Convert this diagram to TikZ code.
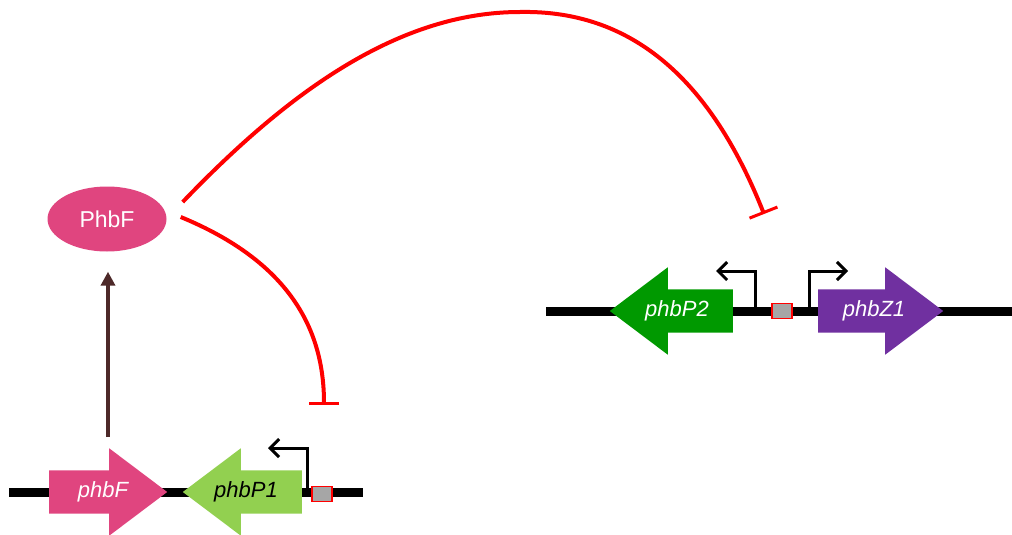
\documentclass[tikz,border=0pt]{standalone}
\usepackage{fontspec}
\setmainfont{Liberation Sans}
\usetikzlibrary{arrows.meta,shapes.geometric,shapes.arrows}
\definecolor{rose}{RGB}{224,69,127}
\definecolor{lime}{RGB}{146,208,80}
\definecolor{forest}{RGB}{0,153,0}
\definecolor{violet}{RGB}{112,48,160}
\definecolor{cocoa}{RGB}{77,41,41}
\definecolor{ashgray}{RGB}{166,166,166}

\begin{document}
\begin{tikzpicture}[x=1pt,y=-1pt,
    gene/.style={single arrow,single arrow tip angle=74,single arrow head extend=22pt,
      inner xsep=0pt,inner ysep=11.5pt,text height=15pt,text depth=5pt,anchor=tail},
    genetext/.style={font=\fontsize{22}{26}\selectfont\itshape,inner sep=0pt},
    dna/.style={line width=9pt},
    operator/.style={draw=red,line width=1.5pt,fill=ashgray,minimum width=20pt,minimum height=15pt,inner sep=0pt},
    prom/.style={line width=3pt,-{Straight Barb[length=9pt,width=18pt]}},
    repress/.style={red,line width=4pt,-{Bar[width=30pt,line width=3pt]}},
    act/.style={cocoa,line width=4pt,-{Triangle[length=14pt,width=14pt]}}]
  \useasboundingbox (0,0) rectangle (1012,535);
  % chromosome stretches
  \draw[dna] (9,492) -- (363,492);
  \draw[dna] (546,311) -- (1012,311);
  \foreach \n/\x/\y/\l/\r/\o/\c/\t/\s in {
      gF/49/492/118/0/54/rose/white/phbF,
      gP1/302/492/119/180/-56/lime/black/phbP1,
      gP2/733/311/123/180/-56/forest/white/phbP2,
      gZ1/818/311/125/0/56/violet/white/phbZ1}
    {
      \node[gene,fill=\c,shape border rotate=\r,minimum height=\l pt] (\n) at (\x,\y) {};
      \node[genetext,text=\t] (\n-l) at ([xshift=\o pt]\n.tail) {\s};
    }
  \node[operator] (op1) at (322,494) {};
  \node[operator] (op2) at (782,311) {};
  % promoters
  \coordinate (tss1) at ([xshift=5pt]gP1.tail);
  \coordinate (tss2) at ([xshift=22pt]gP2.tail);
  \coordinate (tss3) at ([xshift=-9pt]gZ1.tail);
  \draw[prom] (tss1) |- ++(-39,-44);
  \draw[prom] (tss2) |- ++(-39,-40);
  \draw[prom] (tss3) |- ++(39,-40);
  % regulator
  \node[ellipse,fill=rose,minimum width=119pt,minimum height=65pt,inner sep=0pt,
    text=white,font=\fontsize{23}{27}\selectfont] (prot) at (107,219) {PhbF};
  \coordinate (gFtop) at ([shift={(59,-55)}]gF.tail);
  \draw[act,shorten >=20pt] (gFtop) -- (gFtop |- prot.south);
  \coordinate (rep1) at (324,405);
  \coordinate (rep2) at (764,214);
  \draw[repress] ([shift={(14,-2)}]prot.east) .. controls (290,262) and (324,330) .. (rep1);
  \draw[repress] ([shift={(16,-17)}]prot.east) .. controls (290,90) and (400,12) .. (520,12)
    .. controls (620,10) and (705,65) .. (rep2);
\end{tikzpicture}
\end{document}
